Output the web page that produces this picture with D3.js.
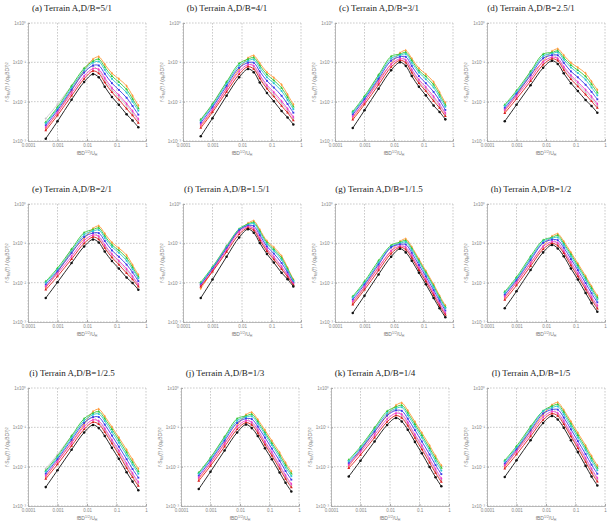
<!DOCTYPE html>
<html>
<head>
<meta charset="utf-8">
<script src="https://cdn.jsdelivr.net/npm/d3@7"></script>
<style>
  body { margin: 0; background: #fff; }
  svg { display: block; }
</style>
</head>
<body>
<svg id="chart" width="612" height="528"></svg>
<script>
// reduced frequency grid shared by every panel
const freq = [0.0004, 0.001, 0.003, 0.008, 0.016, 0.025, 0.04, 0.07, 0.12, 0.22, 0.35, 0.55];
const xTicks = [0.0001, 0.001, 0.01, 0.1, 1];
const xTickLabels = ["0.0001", "0.001", "0.01", "0.1", "1"];
const yTicks = [0.001, 0.01, 0.1, 1];
const yTickLabels = ["1x10\u207B\u00B3", "1x10\u207B\u00B2", "1x10\u207B\u00B9", "1x10\u2070"];
const titles = [
  "(a) Terrain A,D/B=5/1", "(b) Terrain A,D/B=4/1", "(c) Terrain A,D/B=3/1", "(d) Terrain A,D/B=2.5/1",
  "(e) Terrain A,D/B=2/1", "(f) Terrain A,D/B=1.5/1", "(g) Terrain A,D/B=1/1.5", "(h) Terrain A,D/B=1/2",
  "(i) Terrain A,D/B=1/2.5", "(j) Terrain A,D/B=1/3", "(k) Terrain A,D/B=1/4", "(l) Terrain A,D/B=1/5"
];
// series order in each panel: black, red, magenta, blue, cyan, green, orange, grey  (log10 of spectrum)
const series = ["black", "red", "magenta", "blue", "cyan", "green", "orange", "grey"];

const panelA = [
  [-2.94, -2.50, -1.95, -1.50, -1.30, -1.38, -1.62, -1.88, -2.08, -2.32, -2.48, -2.65],
  [-2.73, -2.35, -1.85, -1.42, -1.22, -1.28, -1.51, -1.76, -1.95, -2.18, -2.35, -2.54],
  [-2.65, -2.28, -1.78, -1.35, -1.16, -1.18, -1.40, -1.65, -1.83, -2.05, -2.24, -2.44],
  [-2.60, -2.22, -1.70, -1.26, -1.08, -1.08, -1.29, -1.53, -1.70, -1.90, -2.11, -2.33],
  [-2.55, -2.18, -1.65, -1.20, -1.01, -0.98, -1.19, -1.42, -1.58, -1.77, -2.00, -2.23],
  [-2.52, -2.14, -1.60, -1.15, -0.97, -0.92, -1.12, -1.35, -1.50, -1.69, -1.93, -2.17],
  [-2.68, -2.28, -1.72, -1.20, -0.92, -0.86, -1.05, -1.28, -1.42, -1.60, -1.85, -2.10],
  [-2.43, -2.07, -1.60, -1.25, -1.10, -1.22, -1.45, -1.70, -1.88, -2.10, -2.29, -2.48]
];
const panelB = [
  [-2.88, -2.42, -1.85, -1.38, -1.17, -1.25, -1.51, -1.78, -1.99, -2.24, -2.40, -2.58],
  [-2.67, -2.27, -1.75, -1.30, -1.11, -1.17, -1.41, -1.67, -1.87, -2.11, -2.28, -2.48],
  [-2.59, -2.20, -1.68, -1.23, -1.06, -1.09, -1.32, -1.58, -1.76, -1.99, -2.18, -2.39],
  [-2.54, -2.14, -1.60, -1.14, -1.01, -1.01, -1.23, -1.47, -1.64, -1.85, -2.06, -2.28],
  [-2.49, -2.10, -1.55, -1.08, -0.96, -0.93, -1.14, -1.38, -1.53, -1.73, -1.96, -2.19],
  [-2.46, -2.06, -1.50, -1.03, -0.92, -0.88, -1.08, -1.31, -1.46, -1.65, -1.89, -2.13],
  [-2.62, -2.22, -1.66, -1.17, -0.89, -0.83, -1.02, -1.25, -1.39, -1.57, -1.82, -2.07],
  [-2.45, -2.05, -1.50, -1.13, -0.97, -1.12, -1.36, -1.62, -1.81, -2.04, -2.23, -2.43]
];
const panelC = [
  [-2.67, -2.22, -1.67, -1.20, -1.00, -1.09, -1.35, -1.62, -1.84, -2.10, -2.26, -2.45],
  [-2.46, -2.07, -1.57, -1.12, -0.95, -1.01, -1.26, -1.53, -1.73, -1.98, -2.16, -2.37],
  [-2.38, -2.00, -1.50, -1.05, -0.91, -0.94, -1.18, -1.44, -1.63, -1.87, -2.07, -2.29],
  [-2.33, -1.94, -1.42, -0.96, -0.86, -0.86, -1.09, -1.35, -1.53, -1.75, -1.97, -2.21],
  [-2.28, -1.90, -1.37, -0.90, -0.82, -0.79, -1.01, -1.26, -1.43, -1.64, -1.88, -2.13],
  [-2.25, -1.86, -1.32, -0.85, -0.79, -0.75, -0.95, -1.21, -1.36, -1.57, -1.82, -2.08],
  [-2.41, -2.01, -1.45, -1.04, -0.76, -0.70, -0.90, -1.15, -1.30, -1.50, -1.76, -2.03],
  [-2.30, -1.91, -1.32, -0.95, -0.80, -0.97, -1.21, -1.48, -1.68, -1.92, -2.11, -2.32]
];
const panelD = [
  [-2.50, -2.08, -1.58, -1.14, -0.96, -1.04, -1.28, -1.53, -1.73, -1.96, -2.11, -2.28],
  [-2.29, -1.93, -1.48, -1.06, -0.91, -0.96, -1.19, -1.43, -1.61, -1.82, -1.99, -2.16],
  [-2.21, -1.86, -1.41, -0.99, -0.87, -0.90, -1.11, -1.33, -1.50, -1.70, -1.87, -2.06],
  [-2.16, -1.80, -1.33, -0.90, -0.82, -0.82, -1.01, -1.23, -1.38, -1.57, -1.75, -1.94],
  [-2.11, -1.76, -1.28, -0.84, -0.78, -0.75, -0.93, -1.13, -1.27, -1.44, -1.64, -1.84],
  [-2.08, -1.72, -1.23, -0.79, -0.75, -0.71, -0.88, -1.07, -1.20, -1.36, -1.56, -1.77],
  [-2.24, -1.84, -1.33, -0.98, -0.72, -0.66, -0.82, -1.01, -1.13, -1.28, -1.49, -1.70],
  [-2.20, -1.82, -1.23, -0.89, -0.76, -0.93, -1.14, -1.37, -1.55, -1.76, -1.92, -2.11]
];
const panelE = [
  [-2.39, -1.99, -1.50, -1.08, -0.90, -0.98, -1.21, -1.45, -1.64, -1.87, -2.01, -2.18],
  [-2.18, -1.84, -1.40, -1.00, -0.84, -0.90, -1.12, -1.36, -1.54, -1.76, -1.92, -2.10],
  [-2.10, -1.77, -1.33, -0.93, -0.79, -0.82, -1.04, -1.27, -1.44, -1.65, -1.84, -2.04],
  [-2.05, -1.71, -1.25, -0.84, -0.74, -0.74, -0.94, -1.18, -1.34, -1.54, -1.74, -1.96],
  [-2.00, -1.67, -1.20, -0.78, -0.69, -0.66, -0.86, -1.09, -1.24, -1.44, -1.66, -1.89],
  [-1.97, -1.63, -1.15, -0.73, -0.65, -0.61, -0.81, -1.04, -1.18, -1.37, -1.61, -1.85],
  [-2.13, -1.73, -1.22, -0.88, -0.62, -0.56, -0.75, -0.98, -1.12, -1.30, -1.55, -1.80],
  [-2.10, -1.74, -1.15, -0.83, -0.70, -0.85, -1.07, -1.31, -1.48, -1.70, -1.87, -2.07]
];
const panelF = [
  [-2.39, -1.92, -1.34, -0.85, -0.64, -0.73, -0.99, -1.27, -1.49, -1.75, -1.91, -2.10],
  [-2.10, -1.72, -1.22, -0.77, -0.61, -0.67, -0.92, -1.20, -1.41, -1.66, -1.85, -2.06],
  [-2.08, -1.69, -1.17, -0.71, -0.58, -0.62, -0.86, -1.14, -1.34, -1.59, -1.80, -2.03],
  [-2.05, -1.65, -1.13, -0.67, -0.55, -0.56, -0.79, -1.08, -1.26, -1.50, -1.74, -2.00],
  [-2.02, -1.62, -1.10, -0.65, -0.53, -0.50, -0.73, -1.02, -1.19, -1.42, -1.69, -1.96],
  [-1.99, -1.60, -1.08, -0.63, -0.51, -0.47, -0.69, -0.98, -1.15, -1.37, -1.65, -1.94],
  [-2.15, -1.70, -1.10, -0.68, -0.49, -0.43, -0.65, -0.94, -1.10, -1.32, -1.62, -1.92],
  [-2.05, -1.63, -1.05, -0.66, -0.55, -0.64, -0.89, -1.17, -1.37, -1.62, -1.82, -2.05]
];
const panelG = [
  [-2.77, -2.33, -1.79, -1.34, -1.14, -1.23, -1.44, -1.75, -2.04, -2.39, -2.65, -2.88],
  [-2.56, -2.18, -1.69, -1.26, -1.10, -1.16, -1.37, -1.68, -1.97, -2.32, -2.59, -2.82],
  [-2.48, -2.11, -1.62, -1.19, -1.07, -1.10, -1.31, -1.62, -1.91, -2.26, -2.53, -2.77],
  [-2.43, -2.05, -1.54, -1.10, -1.03, -1.03, -1.24, -1.55, -1.84, -2.19, -2.46, -2.71],
  [-2.38, -2.01, -1.49, -1.08, -1.00, -0.97, -1.17, -1.48, -1.78, -2.12, -2.41, -2.65],
  [-2.35, -1.97, -1.44, -1.05, -0.97, -0.93, -1.13, -1.44, -1.74, -2.08, -2.37, -2.62],
  [-2.51, -2.11, -1.60, -1.20, -0.95, -0.89, -1.09, -1.40, -1.70, -2.04, -2.33, -2.58],
  [-2.54, -2.13, -1.50, -1.12, -1.00, -1.13, -1.33, -1.64, -1.94, -2.28, -2.55, -2.79]
];
const panelH = [
  [-2.65, -2.22, -1.68, -1.23, -1.04, -1.13, -1.33, -1.64, -1.92, -2.26, -2.52, -2.74],
  [-2.44, -2.07, -1.58, -1.15, -1.00, -1.06, -1.25, -1.56, -1.84, -2.17, -2.43, -2.66],
  [-2.36, -2.00, -1.51, -1.08, -0.96, -0.99, -1.19, -1.48, -1.76, -2.10, -2.36, -2.58],
  [-2.31, -1.94, -1.43, -0.99, -0.91, -0.92, -1.11, -1.40, -1.68, -2.01, -2.27, -2.50],
  [-2.26, -1.90, -1.38, -0.95, -0.87, -0.85, -1.04, -1.33, -1.61, -1.93, -2.19, -2.43],
  [-2.23, -1.86, -1.33, -0.92, -0.85, -0.80, -1.00, -1.28, -1.56, -1.88, -2.14, -2.38],
  [-2.39, -1.99, -1.50, -1.08, -0.82, -0.76, -0.95, -1.23, -1.51, -1.83, -2.09, -2.33],
  [-2.30, -1.92, -1.38, -1.00, -0.88, -1.02, -1.22, -1.52, -1.80, -2.13, -2.39, -2.62]
];
const panelI = [
  [-2.52, -2.09, -1.57, -1.13, -0.94, -1.02, -1.22, -1.52, -1.80, -2.14, -2.38, -2.60],
  [-2.31, -1.94, -1.47, -1.05, -0.87, -0.92, -1.12, -1.41, -1.69, -2.03, -2.27, -2.49],
  [-2.23, -1.87, -1.40, -0.98, -0.81, -0.84, -1.03, -1.32, -1.59, -1.92, -2.17, -2.39],
  [-2.18, -1.81, -1.32, -0.89, -0.74, -0.74, -0.93, -1.21, -1.49, -1.81, -2.06, -2.28],
  [-2.13, -1.77, -1.27, -0.83, -0.68, -0.66, -0.84, -1.12, -1.39, -1.71, -1.95, -2.18],
  [-2.10, -1.73, -1.22, -0.78, -0.64, -0.60, -0.78, -1.05, -1.32, -1.64, -1.89, -2.12],
  [-2.26, -1.86, -1.38, -0.92, -0.60, -0.54, -0.72, -0.99, -1.26, -1.57, -1.82, -2.05],
  [-2.05, -1.69, -1.22, -0.88, -0.74, -0.88, -1.07, -1.36, -1.64, -1.97, -2.21, -2.43]
];
const panelJ = [
  [-2.57, -2.13, -1.59, -1.13, -0.93, -1.02, -1.22, -1.53, -1.81, -2.15, -2.41, -2.63],
  [-2.36, -1.98, -1.49, -1.05, -0.88, -0.94, -1.14, -1.44, -1.72, -2.05, -2.31, -2.53],
  [-2.28, -1.91, -1.42, -0.98, -0.83, -0.87, -1.06, -1.36, -1.63, -1.96, -2.22, -2.44],
  [-2.23, -1.85, -1.34, -0.89, -0.78, -0.79, -0.98, -1.26, -1.54, -1.85, -2.11, -2.33],
  [-2.18, -1.81, -1.29, -0.83, -0.74, -0.72, -0.90, -1.18, -1.45, -1.76, -2.02, -2.24],
  [-2.15, -1.77, -1.24, -0.78, -0.71, -0.67, -0.85, -1.13, -1.40, -1.70, -1.96, -2.18],
  [-2.31, -1.91, -1.40, -0.95, -0.68, -0.62, -0.80, -1.07, -1.34, -1.64, -1.90, -2.12],
  [-2.16, -1.78, -1.24, -0.88, -0.76, -0.90, -1.09, -1.39, -1.67, -2.00, -2.26, -2.48]
];
const panelK = [
  [-2.25, -1.85, -1.36, -0.94, -0.76, -0.85, -1.06, -1.37, -1.66, -2.01, -2.27, -2.50],
  [-2.04, -1.70, -1.26, -0.86, -0.70, -0.76, -0.96, -1.27, -1.56, -1.90, -2.16, -2.39],
  [-1.96, -1.63, -1.19, -0.79, -0.64, -0.67, -0.87, -1.18, -1.46, -1.80, -2.06, -2.30],
  [-1.91, -1.57, -1.11, -0.70, -0.57, -0.58, -0.78, -1.07, -1.36, -1.69, -1.96, -2.19],
  [-1.86, -1.53, -1.06, -0.64, -0.52, -0.49, -0.69, -0.98, -1.26, -1.59, -1.86, -2.10],
  [-1.83, -1.49, -1.01, -0.59, -0.48, -0.44, -0.63, -0.92, -1.20, -1.53, -1.79, -2.03],
  [-1.99, -1.59, -1.12, -0.70, -0.44, -0.38, -0.57, -0.86, -1.14, -1.46, -1.73, -1.97],
  [-1.95, -1.59, -1.01, -0.68, -0.56, -0.71, -0.91, -1.22, -1.50, -1.84, -2.11, -2.34]
];
const panelL = [
  [-2.26, -1.84, -1.33, -0.89, -0.71, -0.80, -1.01, -1.33, -1.63, -1.98, -2.25, -2.48],
  [-2.05, -1.69, -1.23, -0.81, -0.65, -0.71, -0.92, -1.23, -1.53, -1.88, -2.15, -2.38],
  [-1.97, -1.62, -1.16, -0.74, -0.60, -0.64, -0.84, -1.15, -1.44, -1.78, -2.05, -2.29],
  [-1.92, -1.56, -1.08, -0.65, -0.55, -0.55, -0.75, -1.05, -1.35, -1.68, -1.95, -2.18],
  [-1.87, -1.52, -1.03, -0.59, -0.50, -0.47, -0.67, -0.97, -1.26, -1.58, -1.85, -2.09],
  [-1.84, -1.48, -0.98, -0.58, -0.46, -0.42, -0.61, -0.91, -1.20, -1.52, -1.79, -2.03],
  [-2.00, -1.60, -1.10, -0.68, -0.43, -0.37, -0.56, -0.85, -1.14, -1.46, -1.73, -1.97],
  [-1.95, -1.58, -0.98, -0.64, -0.52, -0.67, -0.87, -1.19, -1.48, -1.82, -2.09, -2.33]
];
const panels = [panelA, panelB, panelC, panelD, panelE, panelF, panelG, panelH, panelI, panelJ, panelK, panelL];

// styling
const colors = {
  black: "#111111", red: "#d81e1e", magenta: "#f03cc8", blue: "#3a3ae8",
  cyan: "#2ec8d0", green: "#38c838", orange: "#ff9a3a", grey: "#c4c4c4"
};
const symbols = {
  black: d3.symbolCircle, red: d3.symbolTriangle, magenta: d3.symbolDiamond, blue: d3.symbolSquare,
  cyan: d3.symbolCircle, green: d3.symbolTriangle, orange: d3.symbolDiamond, grey: d3.symbolCircle
};
const drawOrder = [7, 6, 5, 4, 3, 2, 1, 0];

const colLeft = [[28, 183, 335, 487], [28, 183, 335, 487], [28, 181, 331, 487]];
const rowTop = [23, 204, 388];
const plotW = 118, plotH = 118;

const svg = d3.select("#chart");

panels.forEach((panel, p) => {
  const row = Math.floor(p / 4), col = p % 4;
  const left = colLeft[row][col], top = rowTop[row];

  const x = d3.scaleLog().domain([0.0001, 1]).range([0, plotW]);
  const y = d3.scaleLog().domain([0.001, 1]).range([plotH, 0]);

  const g = svg.append("g").attr("transform", `translate(${left},${top})`);

  svg.append("text")
    .attr("x", left + 44)
    .attr("y", top - 12)
    .attr("text-anchor", "middle")
    .style("font-family", "'Liberation Serif', 'DejaVu Serif', serif")
    .style("font-size", "9px")
    .style("fill", "#222")
    .text(titles[p]);

  // dashed grid and frame
  g.append("g").selectAll("line")
    .data(xTicks)
    .join("line")
    .attr("x1", d => x(d)).attr("x2", d => x(d))
    .attr("y1", 0).attr("y2", plotH)
    .attr("stroke", "#b4b4b4")
    .attr("stroke-width", 0.7)
    .attr("stroke-dasharray", "1.6,1.4");
  g.append("g").selectAll("line")
    .data(yTicks)
    .join("line")
    .attr("x1", 0).attr("x2", plotW)
    .attr("y1", d => y(d)).attr("y2", d => y(d))
    .attr("stroke", "#b4b4b4")
    .attr("stroke-width", 0.7)
    .attr("stroke-dasharray", "1.6,1.4");

  g.append("g")
    .attr("transform", `translate(0,${plotH})`)
    .call(d3.axisBottom(x).tickValues(xTicks).tickSize(-2).tickFormat((d, i) => xTickLabels[i]))
    .call(a => a.select(".domain").attr("stroke", "#a8a8a8").attr("stroke-width", 0.8))
    .call(a => a.selectAll(".tick line").attr("stroke", "#a8a8a8"))
    .call(a => a.selectAll("text")
      .attr("y", 2.5)
      .style("font-family", "'Liberation Sans', Arial, sans-serif")
      .style("font-size", "4.5px")
      .style("fill", "#888"));

  g.append("g")
    .call(d3.axisLeft(y).tickValues(yTicks).tickSize(-2).tickFormat((d, i) => yTickLabels[i]))
    .call(a => a.select(".domain").attr("stroke", "#a8a8a8").attr("stroke-width", 0.8))
    .call(a => a.selectAll(".tick line").attr("stroke", "#a8a8a8"))
    .call(a => a.selectAll("text")
      .attr("x", -2)
      .style("font-family", "'Liberation Sans', Arial, sans-serif")
      .style("font-size", "4.5px")
      .style("fill", "#888"));

  // axis titles
  const xt = g.append("text")
    .attr("x", plotW / 2)
    .attr("y", plotH + 13.5)
    .attr("text-anchor", "middle")
    .style("font-family", "'Liberation Sans', Arial, sans-serif")
    .style("font-size", "5px")
    .style("fill", "#777");
  xt.append("tspan").text("fBD");
  xt.append("tspan").attr("dy", -1.5).style("font-size", "3.5px").text("1/2");
  xt.append("tspan").attr("dy", 1.5).text("/U");
  xt.append("tspan").attr("dy", 1).style("font-size", "3.5px").text("H");

  const yt = g.append("text")
    .attr("transform", `translate(-19,${plotH / 2}) rotate(-90)`)
    .attr("text-anchor", "middle")
    .style("font-family", "'Liberation Sans', Arial, sans-serif")
    .style("font-size", "5px")
    .style("fill", "#777");
  yt.append("tspan").text("f\u00B7S");
  yt.append("tspan").attr("dy", 1).style("font-size", "3.5px").text("Mz");
  yt.append("tspan").attr("dy", -1).text("(f) / (q");
  yt.append("tspan").attr("dy", 1).style("font-size", "3.5px").text("H");
  yt.append("tspan").attr("dy", -1).text("BD");
  yt.append("tspan").attr("dy", -1.5).style("font-size", "3.5px").text("2");
  yt.append("tspan").attr("dy", 1.5).text(")");
  yt.append("tspan").attr("dy", -1.5).style("font-size", "3.5px").text("2");

  // spectra
  const line = d3.line()
    .x((d, i) => x(freq[i]))
    .y(d => y(Math.pow(10, d)))
    .curve(d3.curveCatmullRom.alpha(0.5));

  drawOrder.forEach(s => {
    const name = series[s];
    const vals = panel[s];
    g.append("path")
      .datum(vals)
      .attr("fill", "none")
      .attr("stroke", colors[name])
      .attr("stroke-width", name === "grey" ? 0.8 : 0.9)
      .attr("d", line);
    g.append("g").selectAll("path")
      .data(vals)
      .join("path")
      .attr("transform", (d, i) => `translate(${x(freq[i])},${y(Math.pow(10, d))})`)
      .attr("d", d3.symbol().type(symbols[name]).size(name === "black" ? 5 : 3.5))
      .attr("fill", colors[name])
      .attr("stroke", "none");
  });
});
</script>
</body>
</html>
